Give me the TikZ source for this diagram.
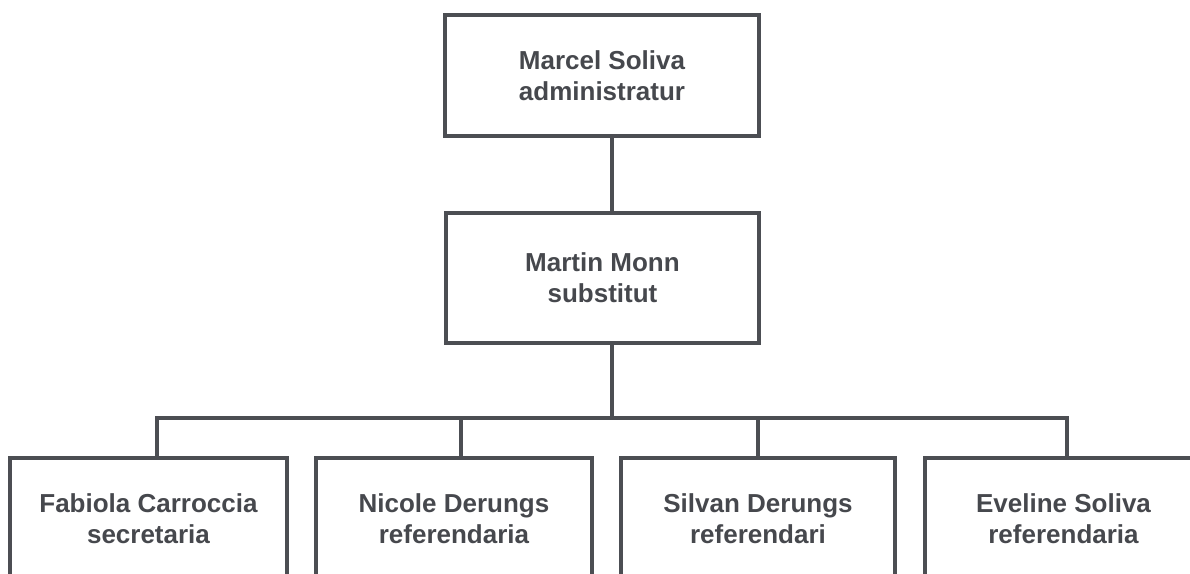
\documentclass[tikz,border=0pt]{standalone}
\usepackage{fontspec}
\setmainfont{Liberation Sans}
\definecolor{linec}{HTML}{4C4E53}
\definecolor{textc}{HTML}{46484D}
\begin{document}
\begin{tikzpicture}[x=1pt,y=-1pt,
  box/.style={draw=linec,line width=3.5pt,rectangle,inner sep=0pt,
    text=textc,align=center,font=\fontsize{26}{31}\selectfont\bfseries},
  conn/.style={draw=linec,line width=3.5pt}]
\useasboundingbox (0,0) rectangle (1190,573);
\clip (0,0) rectangle (1190,573);
\node[box,minimum width=314pt,minimum height=121pt] (top) at (602,75.5) {Marcel Soliva\\administratur};
\node[box,minimum width=313pt,minimum height=130pt] (mid) at (602.5,278) {Martin Monn\\substitut};
\node[box,minimum width=277pt,minimum height=122pt] (b1) at (148.5,519) {Fabiola Carroccia\\secretaria};
\node[box,minimum width=276pt,minimum height=122pt] (b2) at (454,519) {Nicole Derungs\\referendaria};
\node[box,minimum width=274pt,minimum height=122pt] (b3) at (758,519) {Silvan Derungs\\referendari};
\node[box,minimum width=277pt,minimum height=122pt] (b4) at (1063.5,519) {Eveline Soliva\\referendaria};
\coordinate (j) at (612,418);
\draw[conn] ([xshift=10pt]top.south) -- ([xshift=9.5pt]mid.north);
\draw[conn] ([xshift=9.5pt]mid.south) -- (j);
\draw[conn] ([xshift=8.5pt]b1.north) |- (j) -| ([xshift=3.5pt]b4.north);
\draw[conn] ([xshift=7pt]b2.north) -- ([xshift=7pt]b2.north |- j);
\draw[conn] (b3.north) -- (b3.north |- j);
\end{tikzpicture}
\end{document}
